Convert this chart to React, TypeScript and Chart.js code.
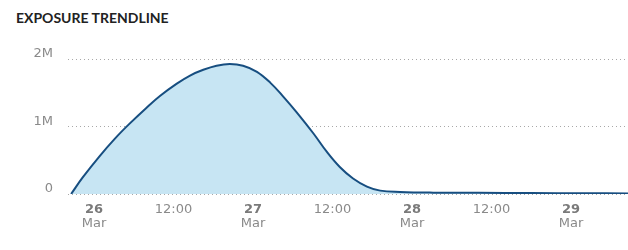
import React, { useEffect, useRef } from "react";
import { Chart, registerables } from "chart.js";

Chart.register(...registerables);

// Hours relative to 26 Mar 00:00
const HOURS = [-3.45, -1.7, 0.8, 3.3, 5.3, 7.9, 10.0, 12.5, 14.5, 16.5, 18.5, 20.5, 22.5, 24.6, 26.6, 28.6, 30.6, 33.1, 35.1, 37.1, 39.1, 41.2, 43.2, 46.2, 51.2, 58, 66, 74, 80.6];
const EXPOSURE = [0, 245000, 555000, 835000, 1035000, 1275000, 1455000, 1635000, 1755000, 1840000, 1900000, 1925000, 1900000, 1810000, 1650000, 1440000, 1210000, 900000, 630000, 400000, 230000, 110000, 50000, 30000, 20000, 18000, 14000, 11000, 8000];

const X_TICKS = [0, 12, 24, 36, 48, 60, 72];
const DAY_LABELS = ["26", "27", "28", "29"];
const HALF_DAY_LABEL = "12:00";
const MONTH_LABEL = "Mar";
const Y_TICKS = [0, 1000000, 2000000];
const Y_LABELS = ["0", "1M", "2M"];
const TITLE = "EXPOSURE TRENDLINE";

const X_MIN = -3.92;
const X_MAX = 80.6;

export default function App() {
  const ref = useRef<HTMLCanvasElement | null>(null);

  useEffect(() => {
    document.body.style.margin = "0";
    const canvas = ref.current;
    if (!canvas) return;
    const labelFont = "'DejaVu Sans', sans-serif";
    const chart = new Chart(canvas, {
      type: "line",
      data: {
        datasets: [
          {
            data: HOURS.map((h, i) => ({ x: h, y: EXPOSURE[i] })),
            borderColor: "#174e80",
            borderWidth: 2,
            backgroundColor: "#c7e5f3",
            fill: "origin",
            pointRadius: 0,
            tension: 0.4,
          },
        ],
      },
      options: {
        responsive: false,
        animation: false,
        devicePixelRatio: 1,
        layout: { padding: { top: 59, left: 0, right: 0, bottom: 0 } },
        plugins: { legend: { display: false }, tooltip: { enabled: false }, title: { display: false } },
        scales: {
          x: {
            type: "linear",
            position: "bottom",
            min: X_MIN,
            max: X_MAX,
            afterBuildTicks: (s: any) => {
              s.ticks = X_TICKS.map((v) => ({ value: v }));
            },
            afterFit: (s: any) => {
              s.height = 20;
            },
            grid: { display: false, drawTicks: false },
            border: { display: false },
            ticks: {
              autoSkip: false,
              maxRotation: 0,
              padding: 8,
              color: (ctx: any) => (ctx.tick && ctx.tick.value % 24 === 0 ? "#7a7a7a" : "#8a8a8a"),
              font: (ctx: any) =>
                ctx.tick && ctx.tick.value % 24 === 0
                  ? { family: labelFont, size: 13, weight: "bold" }
                  : { family: labelFont, size: 13, weight: "normal" },
              callback: (v: any) => {
                const n = Number(v);
                return n % 24 === 0 ? DAY_LABELS[n / 24] : HALF_DAY_LABEL;
              },
            },
          },
          x2: {
            type: "linear",
            axis: "x",
            position: "bottom",
            min: X_MIN,
            max: X_MAX,
            afterBuildTicks: (s: any) => {
              s.ticks = X_TICKS.filter((v) => v % 24 === 0).map((v) => ({ value: v }));
            },
            afterFit: (s: any) => {
              s.height = 36;
            },
            grid: { display: false, drawTicks: false },
            border: { display: false },
            ticks: {
              autoSkip: false,
              maxRotation: 0,
              padding: 2,
              color: "#8a8a8a",
              font: { family: labelFont, size: 13 },
              callback: () => MONTH_LABEL,
            },
          },
          y: {
            type: "linear",
            min: 0,
            max: 2000000,
            afterBuildTicks: (s: any) => {
              s.ticks = Y_TICKS.map((v) => ({ value: v }));
            },
            afterFit: (s: any) => {
              s.width = 68;
            },
            grid: { color: "#a8a8a8", lineWidth: 1, drawTicks: false },
            border: { display: false, dash: [1, 3] },
            ticks: {
              padding: 15,
              labelOffset: -5,
              color: "#8a8a8a",
              font: { family: labelFont, size: 13 },
              callback: (v: any) => Y_LABELS[Y_TICKS.indexOf(Number(v))],
            },
          },
        },
      },
    } as any);
    return () => chart.destroy();
  }, []);

  return (
    <div style={{ position: "absolute", left: 0, top: 0, width: 628, height: 250, background: "#fff" }}>
      <div
        style={{
          position: "absolute",
          left: 16,
          top: 9,
          fontFamily: "Lato, sans-serif",
          fontWeight: 700,
          fontSize: 14,
          lineHeight: "18px",
          color: "#222",
          whiteSpace: "nowrap",
        }}
      >
        {TITLE}
      </div>
      <canvas ref={ref} width={628} height={250} style={{ position: "absolute", left: 0, top: 0 }} />
    </div>
  );
}
